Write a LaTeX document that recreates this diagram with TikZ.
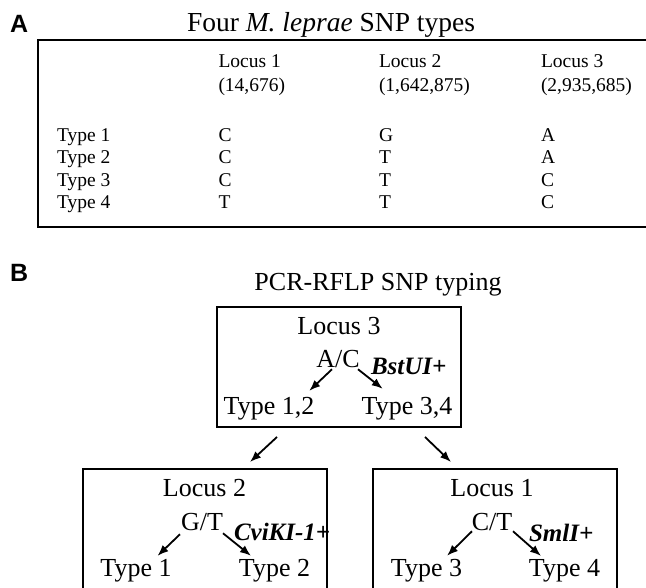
\documentclass[tikz,border=0pt]{standalone}
\usepackage{fontspec}
\setmainfont{Liberation Serif}
\setsansfont{Liberation Sans}
\usetikzlibrary{arrows.meta,calc}

\tikzset{every picture/.style={line width=2pt}}
\tikzset{
  panel/.style={anchor=base west, inner sep=0pt, font=\sffamily\bfseries\fontsize{25}{30}\selectfont},
  head/.style={anchor=base, inner sep=0pt, font=\fontsize{26}{30}\selectfont},
  tabtxt/.style={anchor=base west, inner sep=0pt, font=\fontsize{19.5}{23}\selectfont},
  boxtxt/.style={anchor=base, inner sep=0pt, font=\fontsize{26}{30}\selectfont},
  enz/.style={anchor=base west, inner sep=0pt, font=\bfseries\itshape\fontsize{25}{30}\selectfont},
  locbox/.style={draw, line width=2pt, minimum width=244pt, inner sep=0pt, anchor=north},
  arr/.style={-{Latex[length=11pt,width=8.5pt]}, line width=1.8pt},
}

\begin{document}
\begin{tikzpicture}[x=1pt,y=1pt,yscale=-1]
\useasboundingbox (0,0) rectangle (646,588);

%%% Panel A: SNP table
% Text Node
\draw (9,33) node [panel] (labA) {A};
% Text Node
\draw (331,32) node [head, font=\fontsize{27.5}{32}\selectfont] (titleA) {Four \textit{M. leprae} SNP types};
%Straight Lines: frame, open on the right
\draw [line width=1.8pt] (650,40) -- (38,40) -- (38,227) -- (650,227);

% column heads
\draw (217.5,68) node [tabtxt] (loc1) {Locus 1};
\draw (217.5,92) node [tabtxt] (pos1) {(14,676)};
\draw (378,68) node [tabtxt] (loc2) {Locus 2};
\draw (378,92) node [tabtxt] (pos2) {(1,642,875)};
\draw (540,68) node [tabtxt] (loc3) {Locus 3};
\draw (540,92) node [tabtxt] (pos3) {(2,935,685)};

% rows
\foreach \a/\b/\c [count=\i] in {C/G/A, C/T/A, C/T/C, T/T/C} {
  \pgfmathsetmacro{\yy}{119.5+22.2*\i}
  \draw (56,\yy) node [tabtxt] (type\i) {Type \i};
  \draw (217.5,\yy) node [tabtxt] (snpa\i) {\a};
  \draw (378,\yy) node [tabtxt] (snpb\i) {\b};
  \draw (540,\yy) node [tabtxt] (snpc\i) {\c};
}

%%% Panel B: PCR-RFLP typing scheme
% Text Node
\draw (9,282) node [panel] (labB) {B};
% Text Node
\draw (378,291) node [head] (titleB) {PCR-RFLP SNP typing};

%Shape: Rectangle
\node [locbox, minimum height=120pt] (box3) at (339,306) {};
\node [locbox, minimum height=140pt] (box2) at (205,468) {};
\node [locbox, minimum height=140pt] (box1) at (495,468) {};

% locus 3 box
\draw (339,335) node [boxtxt] (tloc3) {Locus 3};
\draw (338,368) node [boxtxt] (ac) {A/C};
\draw (370,374) node [enz] (bst) {BstUI+};
\draw (269,414) node [boxtxt] (t12) {Type 1,2};
\draw (407,414) node [boxtxt] (t34) {Type 3,4};
\draw [arr] ($(ac.south)+(-6,0)$) -- ($(t12.north east)+(-6,-5)$);
\draw [arr] ($(ac.south)+(20,0)$) -- ($(t34.north west)+(22,-7)$);

% locus 2 box
\draw (204.5,496) node [boxtxt] (tloc2) {Locus 2};
\draw (202,530) node [boxtxt] (gt) {G/T};
\draw (233,540) node [enz] (cvi) {CviKI-1+};
\draw (136,576) node [boxtxt] (t1) {Type 1};
\draw (274.5,576) node [boxtxt] (t2) {Type 2};
\draw [arr] ($(gt.south)+(-22,3)$) -- ($(t1.north east)+(-15,-2)$);
\draw [arr] ($(gt.south)+(21,2)$) -- ($(t2.north west)+(13,-2)$);

% locus 1 box
\draw (492,496) node [boxtxt] (tloc1) {Locus 1};
\draw (492,530) node [boxtxt] (ct) {C/T};
\draw (528,541) node [enz] (sml) {SmlI+};
\draw (426.5,576) node [boxtxt] (t3) {Type 3};
\draw (564.5,576) node [boxtxt] (t4) {Type 4};
\draw [arr] ($(ct.south)+(-20,0)$) -- ($(t3.north east)+(-16,-2)$);
\draw [arr] ($(ct.south)+(21,0)$) -- ($(t4.north west)+(13,-2)$);

% box to box
\draw [arr] ($(box3.south)+(-62,9)$) -- ($(box2.north)+(45,-6)$);
\draw [arr] ($(box3.south)+(86,9)$) -- ($(box1.north)+(-44,-6)$);

\end{tikzpicture}
\end{document}
